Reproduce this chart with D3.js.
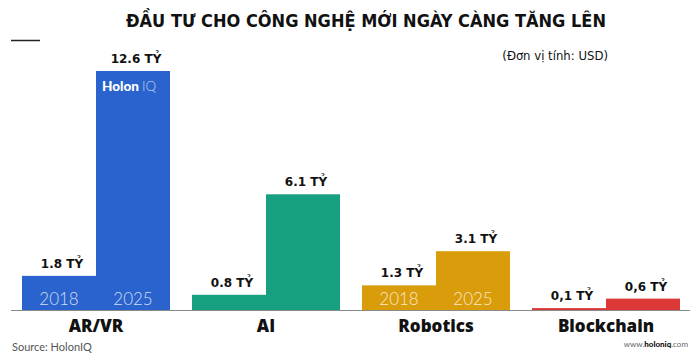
<!DOCTYPE html>
<html lang="vi">
<head>
  <meta charset="UTF-8">
  <script src="https://d3js.org/d3.v7.min.js"></script>
  <title>Đầu tư cho công nghệ mới</title>
  <style>
    body { margin: 0; background: #fff; }
    .title { font-family: 'DejaVu Sans Condensed', 'DejaVu Sans', sans-serif; font-weight: bold; font-size: 18px; fill: #111; }
    .unit { font-family: 'DejaVu Sans Condensed', 'DejaVu Sans', sans-serif; font-size: 13px; fill: #111; }
    .val { font-family: 'DejaVu Sans', sans-serif; font-weight: bold; font-size: 12px; fill: #111; }
    .cat { font-family: 'Open Sans', sans-serif; font-weight: 800; font-size: 17px; fill: #111; }
    .year { font-family: 'Lato', sans-serif; font-weight: 300; font-size: 17px; fill: #fff; fill-opacity: 0.78; }
    .src { font-family: 'Lato', sans-serif; font-size: 11px; fill: #555; }
  </style>
</head>
<body>
<div id="chart"></div>
<script>
  // data
  let categories = ["AR/VR", "AI", "Robotics", "Blockchain"]
  let years = ["2018", "2025"]
  let values2018 = [1.8, 0.8, 1.3, 0.1]
  let values2025 = [12.6, 6.1, 3.1, 0.6]
  let labels2018 = ["1.8 TỶ", "0.8 TỶ", "1.3 TỶ", "0,1 TỶ"]
  let labels2025 = ["12.6 TỶ", "6.1 TỶ", "3.1 TỶ", "0,6 TỶ"]
  let colors = ["#2a63cd", "#17a07f", "#d99d0c", "#dc3838"]
  let yearShown = ["AR/VR", "Robotics"]

  let width = 700, height = 363

  let svg = d3.select("#chart").append("svg")
          .attr("width", width)
          .attr("height", height)

  // build rows for bars
  let rows = []
  categories.forEach((c, i) => {
    rows.push({cat: c, year: "2018", value: values2018[i], label: labels2018[i], color: colors[i]})
    rows.push({cat: c, year: "2025", value: values2025[i], label: labels2025[i], color: colors[i]})
  })

  let xScale = d3.scaleBand().domain(categories).range([22, 680]).paddingInner(22 / 170).paddingOuter(0)
  let xYear = d3.scaleBand().domain(years).range([0, xScale.bandwidth()]).padding(0)
  let yScale = d3.scaleLinear().domain([0, d3.max(values2025)]).range([310, 71])

  // title
  svg.append("text").attr("class", "title")
          .attr("x", 366).attr("y", 27)
          .attr("text-anchor", "middle")
          .text("ĐẦU TƯ CHO CÔNG NGHỆ MỚI NGÀY CÀNG TĂNG LÊN")

  svg.append("line")
          .attr("x1", 11).attr("x2", 40).attr("y1", 40.5).attr("y2", 40.5)
          .attr("stroke", "#222").attr("stroke-width", 1.5)

  svg.append("text").attr("class", "unit")
          .attr("x", 608).attr("y", 60)
          .attr("text-anchor", "end")
          .text("(Đơn vị tính: USD)")

  // bars
  svg.append("g").selectAll("rect")
          .data(rows)
          .join("rect")
          .attr("x", d => xScale(d.cat) + xYear(d.year))
          .attr("width", xYear.bandwidth())
          .attr("y", d => yScale(d.value))
          .attr("height", d => yScale(0) - yScale(d.value))
          .attr("fill", d => d.color)

  // value labels
  svg.append("g").selectAll("text")
          .data(rows)
          .join("text")
          .attr("class", "val")
          .attr("x", d => xScale(d.cat) + xYear(d.year) + xYear.bandwidth() / 2 + 3)
          .attr("y", d => yScale(d.value) - 8)
          .attr("text-anchor", "middle")
          .text(d => d.label)

  // year labels inside bars
  svg.append("g").selectAll("text")
          .data(rows.filter(d => yearShown.indexOf(d.cat) !== -1))
          .join("text")
          .attr("class", "year")
          .attr("x", d => xScale(d.cat) + xYear(d.year) + xYear.bandwidth() / 2)
          .attr("y", 305)
          .attr("text-anchor", "middle")
          .text(d => d.year)

  // logo in the big bar
  let logo = svg.append("text")
          .attr("x", xScale("AR/VR") + xYear("2025") + 6)
          .attr("y", 91)
          .style("font-family", "Lato, sans-serif")
          .style("font-size", "13.5px")
          .attr("fill", "#fff")
  logo.append("tspan").style("font-weight", 900).text("Holon")
  logo.append("tspan").style("font-weight", 300).attr("fill-opacity", 0.7).attr("dx", 3).text("IQ")

  // baseline
  svg.append("line")
          .attr("x1", 11).attr("x2", 690)
          .attr("y1", yScale(0) + 0.5).attr("y2", yScale(0) + 0.5)
          .attr("stroke", "#8a8a8a").attr("stroke-width", 1.2)

  // category labels
  svg.append("g").selectAll("text")
          .data(categories)
          .join("text")
          .attr("class", "cat")
          .attr("x", d => xScale(d) + xScale.bandwidth() / 2)
          .attr("y", 332)
          .attr("text-anchor", "middle")
          .text(d => d)

  // footer
  svg.append("text").attr("class", "src")
          .attr("x", 12).attr("y", 351)
          .text("Source: HolonIQ")

  let www = svg.append("text")
          .attr("x", 688).attr("y", 347)
          .attr("text-anchor", "end")
          .style("font-family", "Lato, sans-serif")
          .style("font-size", "8px")
          .attr("fill", "#666")
  www.append("tspan").text("www.")
  www.append("tspan").style("font-weight", 900).attr("fill", "#111").text("holoniq")
  www.append("tspan").text(".com")
</script>
</body>
</html>
